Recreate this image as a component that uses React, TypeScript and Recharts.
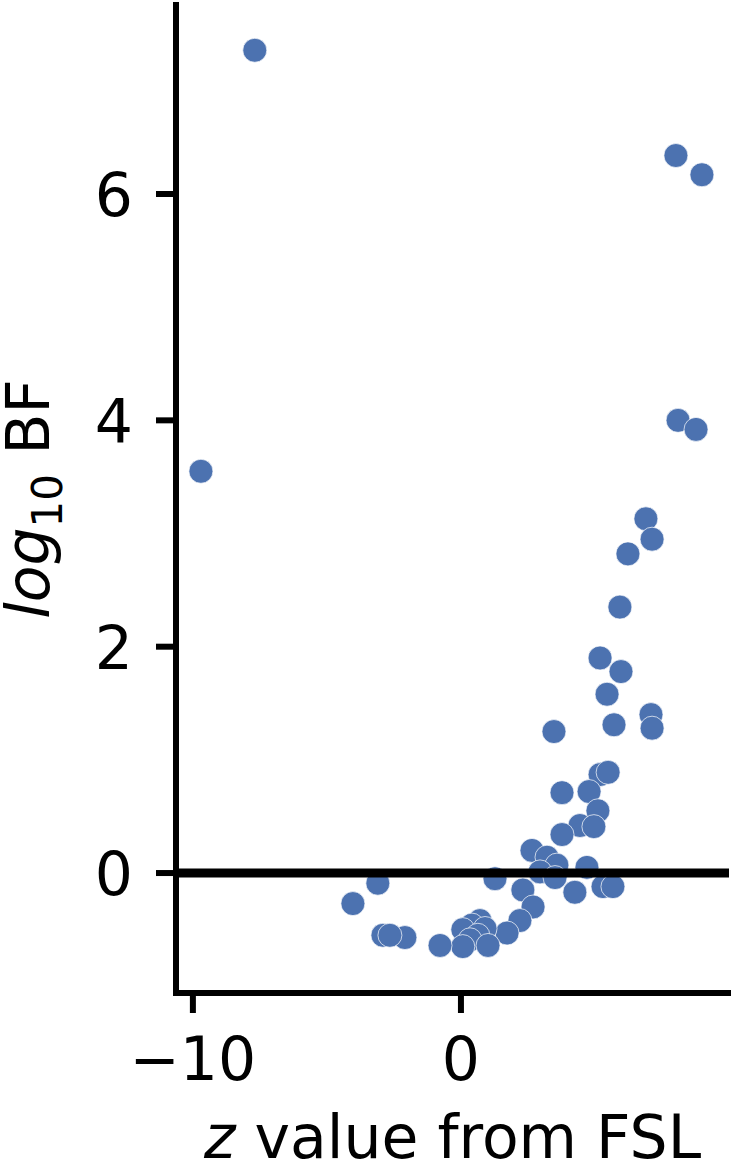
import React from 'react'
import {
  ScatterChart,
  Scatter,
  XAxis,
  YAxis,
  ReferenceLine,
} from 'recharts'

// z values (FSL) and log10 Bayes factors
const zValues = [
  -7.69, -9.7, 8.02, 8.99, 8.1, 8.77, 6.9, 7.13, 6.23, 5.93,
  5.19, 5.97, 5.45, 7.09, 7.13, 5.71, 3.47, 5.19, 5.49, 3.77,
  4.78, 5.11, 4.44, 4.96, 3.77, 2.65, 3.21, 3.58, 4.7, 2.95,
  3.51, 1.27, 2.31, 4.25, 5.3, 5.67, 2.69, 2.2, 1.72, 0.71,
  0.41, 0.9, 0.07, 0.63, 0.34, 1.01, 0.07, -0.78, -2.09, -2.91,
  -2.65, -4.03, -3.1,
]
const log10BF = [
  7.27, 3.55, 6.34, 6.17, 4.0, 3.92, 3.13, 2.95, 2.82, 2.35,
  1.9, 1.78, 1.58, 1.4, 1.28, 1.31, 1.25, 0.87, 0.89, 0.71,
  0.72, 0.55, 0.42, 0.41, 0.34, 0.2, 0.14, 0.07, 0.05, 0.01,
  -0.04, -0.05, -0.15, -0.17, -0.12, -0.12, -0.3, -0.42, -0.53, -0.42,
  -0.46, -0.49, -0.5, -0.55, -0.59, -0.64, -0.65, -0.64, -0.57, -0.55,
  -0.55, -0.27, -0.09,
]
const xTicks = [-10, 0]
const yTicks = [0, 2, 4, 6]

const data = zValues.map((z, i) => ({ z, bf: log10BF[i] }))

const FONT = '"DejaVu Sans", sans-serif'
const DOT = '#4C72B0'

const fmt = (v: number) => (v < 0 ? '\u2212' + Math.abs(v) : String(v))

function XTick({ x, y, payload }: any) {
  return (
    <text x={x} y={y + 67} textAnchor="middle" fontFamily={FONT} fontSize={60} fill="#000">
      {fmt(payload.value)}
    </text>
  )
}

function YTick({ x, y, payload }: any) {
  return (
    <text x={x} y={y + 22} textAnchor="end" fontFamily={FONT} fontSize={60} fill="#000">
      {fmt(payload.value)}
    </text>
  )
}

function Dot({ cx, cy }: any) {
  return <circle cx={cx} cy={cy} r={12} fill={DOT} stroke="#ffffff" strokeWidth={0.7} />
}

export default function App() {
  return (
    <div style={{ position: 'absolute', left: 0, top: 0 }}>
      <ScatterChart
        width={731}
        height={1164}
        margin={{ top: 5, right: 2, bottom: 0, left: 0 }}
        style={{ overflow: 'visible' }}
      >
        <XAxis
          type="number"
          dataKey="z"
          domain={[-10.63, 10.0]}
          ticks={xTicks}
          allowDataOverflow
          height={171}
          tickSize={20}
          tickMargin={0}
          axisLine={{ stroke: '#000', strokeWidth: 6, strokeLinecap: 'square' }}
          tickLine={{ stroke: '#000', strokeWidth: 6 }}
          tick={<XTick />}
          label={{
            content: () => (
              <text x={452.5} y={1158} textAnchor="middle" fontFamily={FONT} fontSize={60} fill="#000">
                <tspan fontStyle="italic">z</tspan>
                <tspan>{' value from FSL'}</tspan>
              </text>
            ),
          }}
        />
        <YAxis
          type="number"
          dataKey="bf"
          domain={[-1.06, 7.67]}
          ticks={yTicks}
          allowDataOverflow
          width={176}
          tickSize={20}
          tickMargin={23}
          axisLine={{ stroke: '#000', strokeWidth: 6, strokeLinecap: 'square' }}
          tickLine={{ stroke: '#000', strokeWidth: 6 }}
          tick={<YTick />}
          label={{
            content: () => (
              <text
                x={49}
                y={499}
                transform="rotate(-90, 49, 499)"
                textAnchor="middle"
                fontFamily={FONT}
                fontSize={60}
                fill="#000"
              >
                <tspan fontStyle="italic">log</tspan>
                <tspan fontSize={42} dy={13}>10</tspan>
                <tspan dy={-13}>{' BF'}</tspan>
              </text>
            ),
          }}
        />
        <Scatter data={data} shape={<Dot />} isAnimationActive={false} />
        <ReferenceLine y={0} stroke="#000" strokeWidth={9} zIndex={700} />
      </ScatterChart>
    </div>
  )
}
